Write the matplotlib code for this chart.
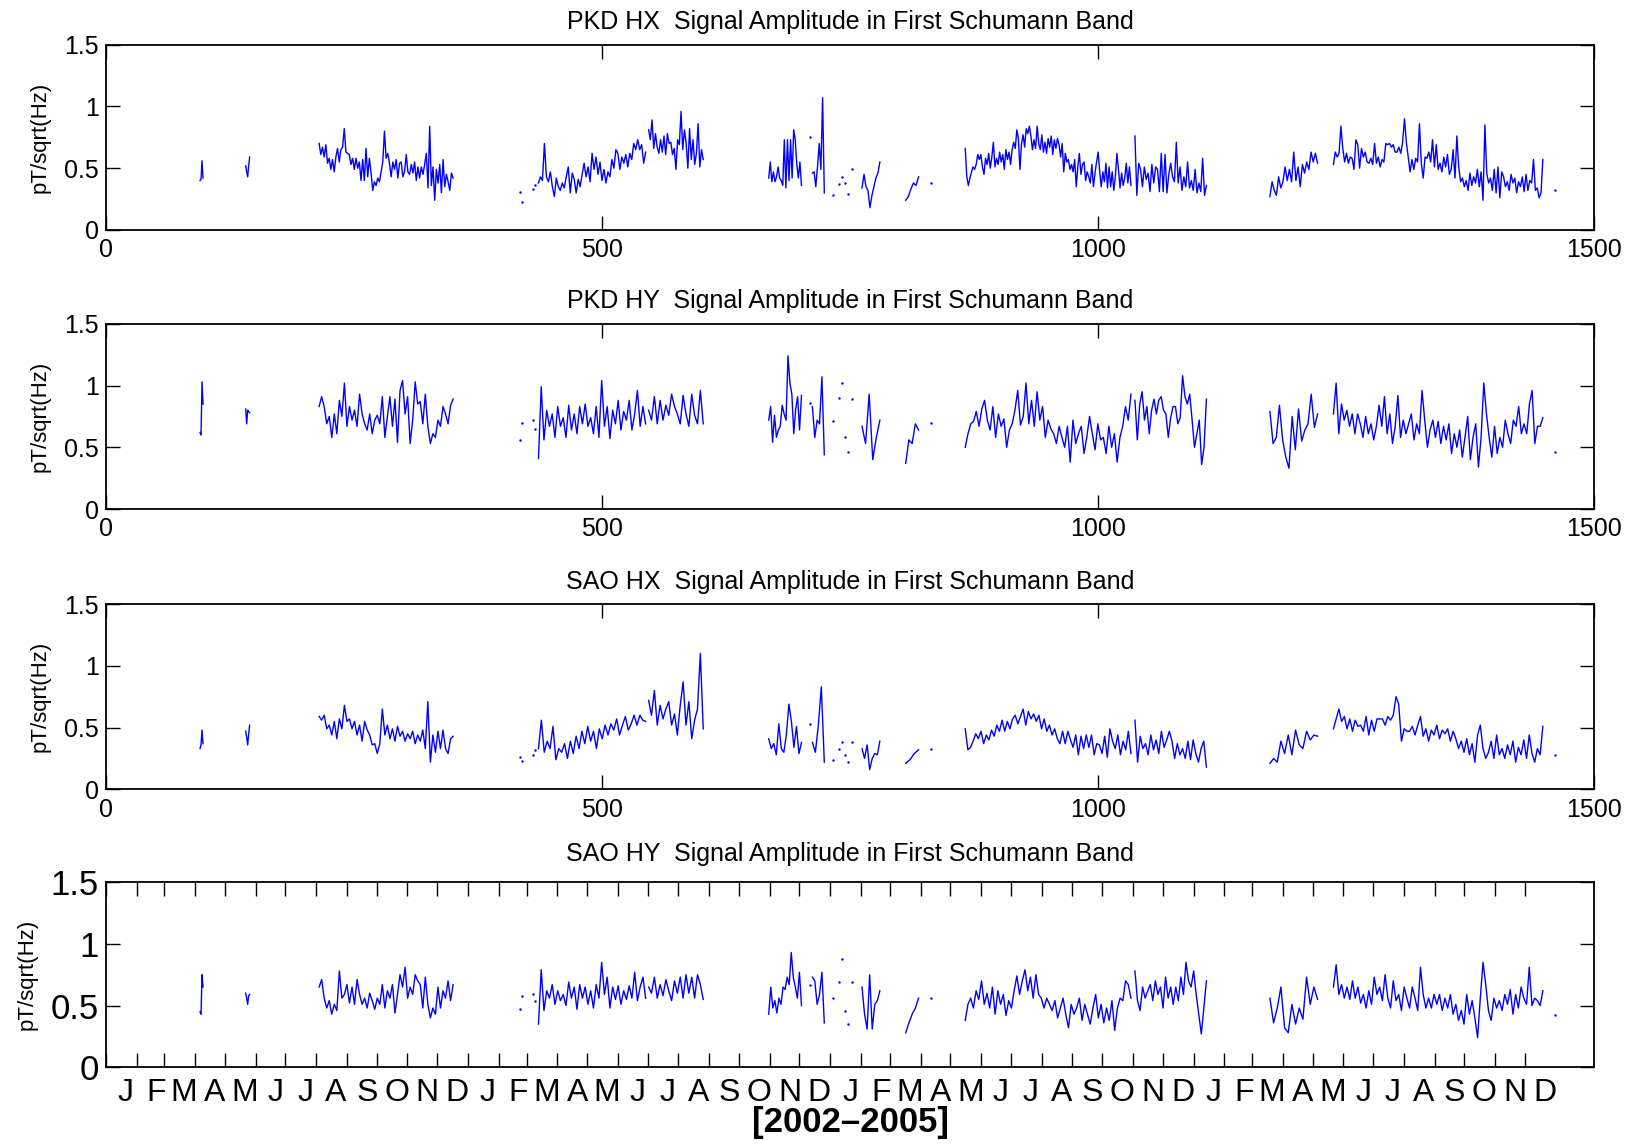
import numpy as np
import matplotlib.pyplot as plt

plt.rcParams['font.family'] = ['Liberation Sans', 'DejaVu Sans']

titles = ['PKD HX  Signal Amplitude in First Schumann Band',
          'PKD HY  Signal Amplitude in First Schumann Band',
          'SAO HX  Signal Amplitude in First Schumann Band',
          'SAO HY  Signal Amplitude in First Schumann Band']

# day ranges (days since 2002-01-01) of each continuous recording run
seg_days = [(95, 98), (141, 145), (215, 350), (436, 544), (547, 602),
            (668, 701), (712, 724), (762, 780), (806, 819), (866, 1033),
            (1037, 1109), (1173, 1221), (1237, 1448)]
# isolated single-day values
dot_days = [417, 419, 430, 433, 710, 733, 739, 742, 745, 748, 752, 832, 1460]

pkd_hx = [
    [0.40, 0.41, 0.56, 0.42],
    [0.52, 0.47, 0.43, 0.52, 0.59],
    [0.70, 0.61, 0.67, 0.59, 0.69, 0.54, 0.58, 0.49, 0.57, 0.47, 0.59, 0.66, 0.55, 0.65, 0.67, 0.82,
     0.63, 0.62, 0.61, 0.53, 0.58, 0.49, 0.58, 0.50, 0.55, 0.40, 0.57, 0.40, 0.66, 0.43, 0.58, 0.46,
     0.32, 0.39, 0.36, 0.42, 0.39, 0.47, 0.55, 0.80, 0.58, 0.62, 0.54, 0.43, 0.55, 0.49, 0.57, 0.42,
     0.54, 0.55, 0.43, 0.47, 0.61, 0.47, 0.45, 0.53, 0.46, 0.55, 0.40, 0.51, 0.42, 0.51, 0.45, 0.53,
     0.62, 0.34, 0.84, 0.36, 0.51, 0.24, 0.49, 0.38, 0.53, 0.30, 0.57, 0.35, 0.45, 0.39, 0.32, 0.46, 0.42],
    [0.38, 0.43, 0.40, 0.70, 0.43, 0.39, 0.47, 0.35, 0.27, 0.42, 0.35, 0.32, 0.38, 0.34, 0.43, 0.51,
     0.30, 0.46, 0.41, 0.30, 0.41, 0.35, 0.45, 0.54, 0.43, 0.51, 0.39, 0.62, 0.49, 0.59, 0.45, 0.55,
     0.40, 0.49, 0.38, 0.47, 0.43, 0.57, 0.50, 0.65, 0.62, 0.49, 0.59, 0.54, 0.61, 0.51, 0.62, 0.57,
     0.70, 0.65, 0.73, 0.65, 0.69, 0.54, 0.63],
    [0.81, 0.73, 0.89, 0.66, 0.78, 0.67, 0.62, 0.73, 0.63, 0.76, 0.61, 0.78, 0.70, 0.71, 0.61, 0.66,
     0.49, 0.73, 0.69, 0.96, 0.65, 0.81, 0.70, 0.50, 0.82, 0.57, 0.73, 0.53, 0.62, 0.86, 0.51, 0.65, 0.57],
    [0.42, 0.55, 0.39, 0.47, 0.39, 0.43, 0.51, 0.42, 0.40, 0.36, 0.73, 0.34, 0.73, 0.40, 0.73, 0.42,
     0.81, 0.73, 0.53, 0.42, 0.55, 0.36],
    [0.46, 0.47, 0.35, 0.51, 0.70, 0.49, 1.07, 0.30],
    [0.34, 0.45, 0.35, 0.32, 0.18, 0.28, 0.35, 0.42, 0.46, 0.55],
    [0.24, 0.27, 0.33, 0.38, 0.36, 0.43],
    [0.66, 0.43, 0.36, 0.42, 0.47, 0.51, 0.49, 0.53, 0.61, 0.57, 0.61, 0.51, 0.45, 0.58, 0.53, 0.62,
     0.50, 0.59, 0.71, 0.51, 0.58, 0.53, 0.63, 0.55, 0.61, 0.49, 0.65, 0.57, 0.63, 0.53, 0.65, 0.71,
     0.66, 0.81, 0.74, 0.49, 0.70, 0.77, 0.67, 0.82, 0.78, 0.84, 0.76, 0.65, 0.73, 0.66, 0.84, 0.70,
     0.65, 0.77, 0.63, 0.71, 0.62, 0.74, 0.67, 0.76, 0.61, 0.73, 0.66, 0.74, 0.69, 0.59, 0.70, 0.47,
     0.62, 0.55, 0.57, 0.49, 0.53, 0.47, 0.57, 0.35, 0.51, 0.62, 0.45, 0.53, 0.55, 0.40, 0.47, 0.43,
     0.38, 0.53, 0.35, 0.46, 0.55, 0.63, 0.47, 0.35, 0.47, 0.39, 0.54, 0.34, 0.51, 0.35, 0.47, 0.32,
     0.43, 0.62, 0.49, 0.34, 0.46, 0.36, 0.42, 0.54, 0.38, 0.51, 0.36],
    [0.76, 0.28, 0.54, 0.49, 0.35, 0.51, 0.41, 0.46, 0.31, 0.53, 0.38, 0.51, 0.49, 0.31, 0.62, 0.31,
     0.61, 0.30, 0.45, 0.54, 0.43, 0.39, 0.71, 0.38, 0.51, 0.32, 0.43, 0.35, 0.55, 0.34, 0.40, 0.32,
     0.49, 0.30, 0.38, 0.31, 0.58, 0.28, 0.36],
    [0.27, 0.39, 0.32, 0.28, 0.43, 0.34, 0.39, 0.51, 0.40, 0.49, 0.39, 0.63, 0.40, 0.51, 0.35, 0.53,
     0.46, 0.55, 0.49, 0.63, 0.55, 0.62, 0.54],
    [0.53, 0.63, 0.59, 0.62, 0.84, 0.66, 0.55, 0.62, 0.54, 0.59, 0.58, 0.49, 0.73, 0.69, 0.50, 0.66,
     0.59, 0.63, 0.55, 0.54, 0.58, 0.53, 0.70, 0.54, 0.59, 0.51, 0.57, 0.55, 0.70, 0.69, 0.70, 0.67,
     0.69, 0.63, 0.63, 0.67, 0.62, 0.71, 0.90, 0.71, 0.59, 0.47, 0.57, 0.49, 0.58, 0.55, 0.86, 0.54,
     0.42, 0.59, 0.58, 0.63, 0.55, 0.73, 0.51, 0.69, 0.49, 0.54, 0.47, 0.59, 0.51, 0.61, 0.45, 0.49,
     0.65, 0.42, 0.76, 0.51, 0.39, 0.42, 0.35, 0.40, 0.32, 0.46, 0.36, 0.43, 0.38, 0.49, 0.35, 0.47,
     0.24, 0.85, 0.46, 0.38, 0.42, 0.32, 0.49, 0.30, 0.51, 0.26, 0.47, 0.43, 0.35, 0.39, 0.32, 0.45,
     0.38, 0.42, 0.30, 0.39, 0.35, 0.43, 0.31, 0.45, 0.32, 0.40, 0.38, 0.57, 0.32, 0.34, 0.26, 0.30, 0.57],
]
pkd_hx_dots = [0.31, 0.23, 0.33, 0.36, 0.75, 0.28, 0.37, 0.43, 0.38, 0.29, 0.49, 0.38, 0.32]

pkd_hy = [
    [0.62, 0.60, 1.03, 0.85],
    [0.81, 0.69, 0.80, 0.79, 0.78],
    [0.83, 0.91, 0.83, 0.69, 0.75, 0.58, 0.77, 0.61, 0.88, 0.75, 1.02, 0.67, 0.83, 0.72, 0.80, 0.67,
     0.93, 0.77, 0.69, 0.64, 0.77, 0.61, 0.72, 0.76, 0.69, 0.91, 0.58, 0.75, 0.91, 0.67, 0.89, 0.54,
     0.96, 1.04, 0.77, 0.91, 0.53, 0.72, 1.03, 0.85, 0.87, 0.69, 0.93, 0.67, 0.53, 0.61, 0.58, 0.72,
     0.67, 0.83, 0.77, 0.69, 0.84, 0.89],
    [0.41, 0.99, 0.56, 0.80, 0.67, 0.77, 0.58, 0.83, 0.67, 0.74, 0.58, 0.84, 0.64, 0.77, 0.61, 0.83,
     0.69, 0.85, 0.67, 0.74, 0.61, 0.83, 0.58, 1.04, 0.67, 0.83, 0.57, 0.80, 0.69, 0.88, 0.64, 0.79,
     0.72, 0.88, 0.64, 0.77, 0.96, 0.67, 0.83, 0.69],
    [0.80, 0.72, 0.91, 0.69, 0.88, 0.72, 0.84, 0.76, 0.93, 0.83, 0.77, 0.69, 0.92, 0.77, 0.67, 0.93,
     0.76, 0.69, 0.96, 0.69],
    [0.72, 0.83, 0.54, 0.76, 0.58, 0.64, 0.67, 0.84, 0.77, 0.72, 1.24, 1.02, 0.93, 0.61, 0.81, 0.91,
     0.64, 0.92],
    [0.83, 0.58, 0.72, 0.69, 1.07, 0.44],
    [0.67, 0.53, 0.93, 0.40, 0.58, 0.72],
    [0.37, 0.56, 0.53, 0.69, 0.64],
    [0.50, 0.61, 0.69, 0.71, 0.79, 0.67, 0.81, 0.88, 0.72, 0.64, 0.83, 0.58, 0.77, 0.67, 0.73, 0.50,
     0.64, 0.69, 0.80, 0.96, 0.68, 0.75, 1.02, 0.69, 0.88, 0.67, 0.95, 0.72, 0.83, 0.58, 0.72, 0.65,
     0.61, 0.53, 0.67, 0.58, 0.50, 0.67, 0.38, 0.72, 0.53, 0.61, 0.67, 0.45, 0.58, 0.75, 0.61, 0.48,
     0.69, 0.56, 0.58, 0.45, 0.67, 0.50, 0.61, 0.38, 0.58, 0.67, 0.83, 0.72, 0.93],
    [0.88, 0.56, 0.85, 0.95, 0.72, 0.83, 0.61, 0.80, 0.89, 0.77, 0.88, 0.91, 0.80, 0.77, 0.58, 0.74,
     0.83, 0.83, 0.69, 0.74, 1.08, 0.91, 0.85, 0.93, 0.72, 0.50, 0.61, 0.72, 0.36, 0.50, 0.89],
    [0.79, 0.53, 0.58, 0.84, 0.56, 0.42, 0.33, 0.75, 0.48, 0.81, 0.55, 0.64, 0.69, 0.93, 0.66, 0.77],
    [0.77, 1.02, 0.61, 0.85, 0.72, 0.80, 0.67, 0.77, 0.61, 0.77, 0.69, 0.58, 0.75, 0.61, 0.69, 0.56,
     0.67, 0.84, 0.67, 0.91, 0.61, 0.77, 0.53, 0.67, 0.92, 0.58, 0.72, 0.61, 0.69, 0.77, 0.56, 0.69,
     0.61, 0.96, 0.72, 0.50, 0.64, 0.72, 0.58, 0.71, 0.53, 0.67, 0.56, 0.69, 0.45, 0.61, 0.50, 0.64,
     0.42, 0.58, 0.75, 0.40, 0.58, 0.69, 0.34, 0.58, 1.02, 0.77, 0.58, 0.42, 0.67, 0.45, 0.58, 0.50,
     0.72, 0.61, 0.53, 0.72, 0.67, 0.83, 0.61, 0.69, 0.61, 0.85, 0.96, 0.53, 0.67, 0.67, 0.74],
]
pkd_hy_dots = [0.56, 0.70, 0.72, 0.65, 0.86, 0.71, 0.90, 1.02, 0.58, 0.46, 0.89, 0.70, 0.46]

sao_hx = [
    [0.33, 0.36, 0.48, 0.37],
    [0.47, 0.42, 0.36, 0.45, 0.52],
    [0.59, 0.56, 0.60, 0.49, 0.52, 0.44, 0.55, 0.41, 0.57, 0.49, 0.68, 0.55, 0.57, 0.49, 0.55, 0.44,
     0.52, 0.39, 0.55, 0.48, 0.44, 0.36, 0.37, 0.29, 0.37, 0.65, 0.44, 0.52, 0.41, 0.49, 0.39, 0.51,
     0.43, 0.47, 0.39, 0.45, 0.41, 0.47, 0.37, 0.44, 0.39, 0.48, 0.33, 0.71, 0.22, 0.44, 0.30, 0.47,
     0.33, 0.48, 0.33, 0.29, 0.41, 0.43],
    [0.33, 0.56, 0.30, 0.39, 0.33, 0.51, 0.24, 0.33, 0.30, 0.37, 0.25, 0.39, 0.29, 0.43, 0.33, 0.47,
     0.37, 0.51, 0.39, 0.47, 0.33, 0.49, 0.41, 0.52, 0.44, 0.53, 0.48, 0.57, 0.44, 0.52, 0.59, 0.48,
     0.53, 0.60, 0.52, 0.60, 0.56, 0.55],
    [0.72, 0.60, 0.80, 0.52, 0.68, 0.57, 0.65, 0.71, 0.52, 0.61, 0.44, 0.68, 0.87, 0.52, 0.71, 0.41,
     0.56, 0.65, 1.10, 0.49],
    [0.41, 0.33, 0.37, 0.28, 0.53, 0.33, 0.30, 0.44, 0.69, 0.55, 0.34, 0.51, 0.29, 0.38],
    [0.38, 0.30, 0.52, 0.83, 0.22],
    [0.33, 0.25, 0.36, 0.16, 0.25, 0.29, 0.28, 0.39],
    [0.21, 0.24, 0.29, 0.32],
    [0.49, 0.32, 0.34, 0.39, 0.45, 0.41, 0.47, 0.37, 0.44, 0.40, 0.48, 0.43, 0.52, 0.47, 0.56, 0.47,
     0.55, 0.49, 0.57, 0.60, 0.53, 0.59, 0.65, 0.52, 0.63, 0.57, 0.61, 0.55, 0.60, 0.49, 0.57, 0.47,
     0.52, 0.44, 0.49, 0.41, 0.37, 0.47, 0.37, 0.47, 0.40, 0.34, 0.44, 0.28, 0.43, 0.33, 0.44, 0.34,
     0.44, 0.28, 0.37, 0.36, 0.29, 0.43, 0.26, 0.49, 0.39, 0.33, 0.44, 0.28, 0.39, 0.32, 0.47, 0.29],
    [0.56, 0.22, 0.43, 0.33, 0.37, 0.28, 0.44, 0.32, 0.40, 0.29, 0.47, 0.34, 0.40, 0.47, 0.39, 0.25,
     0.37, 0.28, 0.33, 0.25, 0.39, 0.24, 0.40, 0.29, 0.22, 0.33, 0.39, 0.18],
    [0.21, 0.25, 0.22, 0.39, 0.29, 0.44, 0.28, 0.48, 0.36, 0.33, 0.47, 0.40, 0.44, 0.43],
    [0.49, 0.57, 0.65, 0.55, 0.59, 0.49, 0.57, 0.47, 0.56, 0.51, 0.52, 0.47, 0.59, 0.44, 0.56, 0.47,
     0.57, 0.57, 0.57, 0.52, 0.59, 0.56, 0.60, 0.75, 0.69, 0.39, 0.49, 0.47, 0.47, 0.51, 0.44, 0.52,
     0.59, 0.43, 0.49, 0.39, 0.48, 0.44, 0.52, 0.41, 0.48, 0.45, 0.49, 0.39, 0.47, 0.41, 0.33, 0.39,
     0.30, 0.41, 0.28, 0.37, 0.22, 0.44, 0.52, 0.33, 0.25, 0.30, 0.39, 0.25, 0.44, 0.28, 0.33, 0.25,
     0.36, 0.28, 0.39, 0.22, 0.34, 0.28, 0.40, 0.25, 0.44, 0.29, 0.22, 0.33, 0.28, 0.51],
]
sao_hx_dots = [0.26, 0.23, 0.28, 0.32, 0.53, 0.24, 0.33, 0.38, 0.28, 0.22, 0.38, 0.33, 0.28]

sao_hy = [
    [0.45, 0.43, 0.75, 0.65],
    [0.60, 0.56, 0.51, 0.58, 0.59],
    [0.65, 0.71, 0.56, 0.48, 0.54, 0.43, 0.51, 0.46, 0.78, 0.56, 0.59, 0.67, 0.52, 0.65, 0.51, 0.71,
     0.59, 0.51, 0.56, 0.48, 0.60, 0.54, 0.47, 0.56, 0.51, 0.67, 0.48, 0.62, 0.56, 0.67, 0.44, 0.59,
     0.75, 0.65, 0.81, 0.56, 0.65, 0.59, 0.75, 0.70, 0.67, 0.48, 0.73, 0.51, 0.40, 0.48, 0.43, 0.65,
     0.48, 0.62, 0.56, 0.70, 0.54, 0.67],
    [0.35, 0.79, 0.46, 0.62, 0.56, 0.67, 0.51, 0.62, 0.54, 0.59, 0.50, 0.69, 0.56, 0.65, 0.47, 0.67,
     0.56, 0.65, 0.51, 0.62, 0.48, 0.67, 0.56, 0.85, 0.59, 0.73, 0.48, 0.65, 0.55, 0.66, 0.51, 0.62,
     0.55, 0.66, 0.56, 0.77, 0.54, 0.65, 0.73, 0.56],
    [0.65, 0.60, 0.73, 0.56, 0.67, 0.58, 0.71, 0.62, 0.54, 0.70, 0.60, 0.73, 0.56, 0.75, 0.60, 0.73,
     0.56, 0.75, 0.67, 0.55],
    [0.43, 0.65, 0.48, 0.54, 0.44, 0.56, 0.51, 0.65, 0.63, 0.73, 0.67, 0.93, 0.73, 0.65, 0.56, 0.77, 0.50],
    [0.73, 0.70, 0.51, 0.59, 0.77, 0.36],
    [0.65, 0.43, 0.31, 0.75, 0.31, 0.51, 0.54, 0.62],
    [0.28, 0.36, 0.43, 0.48, 0.56],
    [0.38, 0.51, 0.56, 0.48, 0.62, 0.55, 0.70, 0.51, 0.60, 0.48, 0.65, 0.43, 0.62, 0.51, 0.59, 0.42,
     0.54, 0.48, 0.62, 0.74, 0.59, 0.70, 0.79, 0.62, 0.73, 0.56, 0.75, 0.59, 0.56, 0.48, 0.56, 0.51,
     0.46, 0.54, 0.40, 0.48, 0.56, 0.43, 0.32, 0.51, 0.43, 0.48, 0.56, 0.38, 0.51, 0.43, 0.35, 0.48,
     0.59, 0.40, 0.51, 0.36, 0.48, 0.38, 0.54, 0.30, 0.48, 0.56, 0.54, 0.70, 0.67, 0.56],
    [0.78, 0.54, 0.46, 0.65, 0.56, 0.62, 0.67, 0.54, 0.70, 0.59, 0.65, 0.48, 0.73, 0.56, 0.65, 0.51,
     0.65, 0.54, 0.73, 0.59, 0.85, 0.70, 0.65, 0.78, 0.59, 0.43, 0.27, 0.48, 0.70],
    [0.56, 0.36, 0.48, 0.65, 0.32, 0.28, 0.51, 0.35, 0.48, 0.39, 0.73, 0.51, 0.65, 0.55],
    [0.65, 0.83, 0.59, 0.67, 0.56, 0.65, 0.55, 0.70, 0.56, 0.65, 0.52, 0.59, 0.48, 0.62, 0.51, 0.73,
     0.59, 0.65, 0.54, 0.75, 0.56, 0.48, 0.70, 0.54, 0.59, 0.46, 0.65, 0.56, 0.48, 0.65, 0.56, 0.46,
     0.81, 0.59, 0.48, 0.56, 0.48, 0.59, 0.51, 0.59, 0.46, 0.56, 0.48, 0.59, 0.43, 0.51, 0.38, 0.46,
     0.35, 0.59, 0.43, 0.54, 0.40, 0.24, 0.56, 0.85, 0.67, 0.46, 0.38, 0.56, 0.48, 0.54, 0.46, 0.59,
     0.51, 0.63, 0.43, 0.59, 0.48, 0.65, 0.56, 0.51, 0.81, 0.50, 0.56, 0.54, 0.50, 0.62],
]
sao_hy_dots = [0.47, 0.58, 0.59, 0.54, 0.67, 0.56, 0.69, 0.88, 0.46, 0.35, 0.69, 0.56, 0.42]

month_letters = list('JFMAMJJASOND') * 4

panels = [(titles[0], pkd_hx, pkd_hx_dots),
          (titles[1], pkd_hy, pkd_hy_dots),
          (titles[2], sao_hx, sao_hx_dots),
          (titles[3], sao_hy, sao_hy_dots)]

fig = plt.figure(figsize=(16.27, 11.44), dpi=100)
bottoms = [0.799, 0.555, 0.310, 0.067]

for k, (title, segs, dots) in enumerate(panels):
    ax = fig.add_axes([0.065, bottoms[k], 0.915, 0.162])
    for (d0, d1), vals in zip(seg_days, segs):
        ax.plot(np.linspace(d0, d1, len(vals)), vals, color='#0000ff', lw=1.0)
    ax.plot(dot_days, dots, ls='none', marker='.', ms=1.5, color='#0000ff')

    ax.set_xlim(0, 1500)
    ax.set_ylim(0, 1.5)
    ax.set_yticks([0, 0.5, 1, 1.5])
    for s in ax.spines.values():
        s.set_linewidth(1.3)

    last = k == 3
    ax.set_yticklabels(['0', '0.5', '1', '1.5'], fontsize=25 if last else 18)
    ax.tick_params(axis='y', direction='in', left=True, right=True,
                   length=10, width=1, pad=5)
    ax.set_title(title, fontsize=18, pad=15 if last else 11)
    ax.set_ylabel('pT/sqrt(Hz)', fontsize=16)
    ax.yaxis.set_label_coords(-0.046 if last else -0.037, 0.5)

    if not last:
        ax.set_xticks([0, 500, 1000, 1500])
        ax.set_xticklabels(['0', '500', '1000', '1500'], fontsize=18)
        ax.tick_params(axis='x', direction='in', top=True, bottom=True,
                       length=10, width=1, pad=6)
    else:
        months = np.arange('2002-01', '2006-01', dtype='datetime64[M]')
        edges = (months.astype('datetime64[D]') - np.datetime64('2002-01-01', 'D')).astype(int)
        ax.set_xticks(edges)
        ax.set_xticklabels([])
        # month initials sit a little past each month start
        ax.set_xticks(edges + 20, minor=True)
        ax.set_xticklabels(month_letters, minor=True, fontsize=23)
        ax.tick_params(axis='x', which='major', direction='in', top=True,
                       bottom=True, length=10, width=1)
        ax.tick_params(axis='x', which='minor', length=0, pad=8)
        ax.set_xlabel('[2002\u20132005]', fontsize=25, fontweight='bold', labelpad=-2)

fig.savefig('out.png', dpi=100)
